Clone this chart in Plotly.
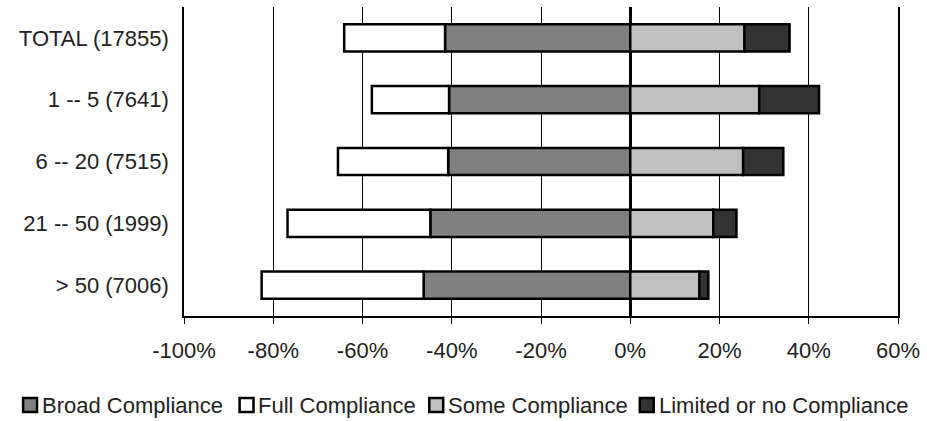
import plotly.graph_objects as go

categories = ["TOTAL (17855)", "1 -- 5 (7641)", "6 -- 20 (7515)", "21 -- 50 (1999)", "> 50 (7006)"]
broad = [41.5, 40.6, 40.8, 44.8, 46.3]
full = [22.6, 17.3, 24.7, 32.0, 36.3]
some = [25.6, 28.9, 25.3, 18.6, 15.5]
limited = [10.1, 13.4, 9.0, 5.2, 2.0]
tick_vals = [-100, -80, -60, -40, -20, 0, 20, 40, 60]
tick_text = ["-100%", "-80%", "-60%", "-40%", "-20%", "0%", "20%", "40%", "60%"]
series_names = ["Broad Compliance", "Full Compliance", "Some Compliance", "Limited or no Compliance"]
series_colors = ["#808080", "#ffffff", "#c0c0c0", "#333333"]

font_family = "Liberation Sans, Arial, sans-serif"
W, H = 927, 421
ML, MR, MT, MB = 184, 24, 7, 105

fig = go.Figure()
series_vals = [[-v for v in broad], [-v for v in full], some, limited]
for name, vals, color in zip(series_names, series_vals, series_colors):
    fig.add_trace(go.Bar(
        y=categories, x=vals, name=name, orientation="h",
        marker=dict(color=color, line=dict(color="black", width=2.5)),
        width=0.44, showlegend=False,
    ))

# custom legend below the plot (pixel layout converted to paper coords)
pw, ph = W - ML - MR, H - MT - MB
legend_sym_px = [22, 240, 431, 643]
legend_y_px = 405
sym = 14
for name, color, sx in zip(series_names, series_colors, legend_sym_px):
    x0 = (sx - ML) / pw
    x1 = (sx + sym - ML) / pw
    y0 = (H - MB - (legend_y_px + sym / 2)) / ph
    y1 = (H - MB - (legend_y_px - sym / 2)) / ph
    fig.add_shape(type="rect", xref="paper", yref="paper", x0=x0, x1=x1, y0=y0, y1=y1,
                  fillcolor=color, line=dict(color="black", width=2.5))
    fig.add_annotation(text=name, xref="paper", yref="paper",
                       x=(sx + sym + 4 - ML) / pw, y=(H - MB - legend_y_px) / ph,
                       xanchor="left", yanchor="middle", showarrow=False,
                       font=dict(size=22, color="#222222"), borderpad=0)

fig.update_layout(
    barmode="relative",
    width=W, height=H,
    margin=dict(l=ML, r=MR, t=MT, b=MB),
    plot_bgcolor="white", paper_bgcolor="white",
    font=dict(family=font_family, size=22, color="#222222"),
    showlegend=False,
)
fig.update_xaxes(
    range=[-100, 60], tickvals=tick_vals, ticktext=tick_text,
    showgrid=True, gridcolor="black", gridwidth=1,
    zeroline=True, zerolinecolor="black", zerolinewidth=2.5,
    showline=True, linecolor="black", linewidth=1.5,
    ticks="outside", ticklen=6, tickcolor="black", tickwidth=1,
    ticklabelstandoff=8,
    tickfont=dict(size=22),
)
fig.update_yaxes(
    categoryorder="array", categoryarray=categories, autorange="reversed",
    showgrid=False, showline=True, mirror=True, linecolor="black", linewidth=1.5,
    ticks="", ticklabelstandoff=9,
    tickfont=dict(size=22),
)

fig.write_html("out.html",
               config={"displayModeBar": False},
               post_script="document.body.style.margin='0';document.body.style.overflow='hidden';")
